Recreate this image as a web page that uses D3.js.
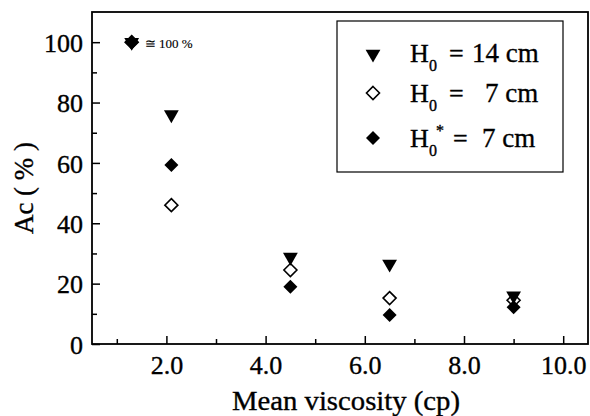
<!DOCTYPE html>
<html>
<head>
<meta charset="utf-8">
<script src="https://cdnjs.cloudflare.com/ajax/libs/d3/7.8.5/d3.min.js"></script>
<style>
    body { margin: 0; background: #fff; }
    svg { display: block; }
    text { stroke: #000; stroke-width: 0.35px; }
</style>
</head>
<body>
<svg id="chart" width="590" height="416"></svg>
<script>
// 数据：平均粘度 (cp) 与 Ac (%)
var viscosity = [1.3, 2.1, 4.5, 6.5, 9.0];
var acH14 = [100, 76, 28.8, 26.5, 16];      // H0 = 14 cm
var acH7 = [100, 46, 24.5, 15.2, 14.5];     // H0 = 7 cm
var acH7star = [100, 59.3, 19, 9.6, 12.2];  // H0* = 7 cm

var xMajorTicks = [2, 4, 6, 8, 10];
var xMinorTicks = [1, 3, 5, 7, 9];
var yMajorTicks = [0, 20, 40, 60, 80, 100];
var yMinorTicks = [10, 30, 50, 70, 90];

var legendRows = [
    {sym: 'tri', sub: '0', sup: '', rest: '14 cm', restX: 472},
    {sym: 'open', sub: '0', sup: '', rest: '7 cm', restX: 485},
    {sym: 'fill', sub: '0', sup: '*', rest: '7 cm', restX: 482}
];

var FONT = '"Liberation Serif", "Times New Roman", serif';
var margin = {left: 92, right: 2, top: 12, bottom: 72};
var width = 590, height = 416;
var svg = d3.select('#chart')
    .attr('font-family', FONT);

var x = d3.scaleLinear().domain([0.5, 10.5]).range([margin.left, width - margin.right]);
var y = d3.scaleLinear().domain([0, 110]).range([height - margin.bottom, margin.top]);

// 刻度朝内, 去掉d3默认的字体
function innerAxis(g, axis) {
    g.call(axis);
    g.attr('font-family', null).attr('font-size', null);
    g.select('.domain').remove();
    g.selectAll('line').attr('stroke', '#000').attr('stroke-width', 1.5);
    g.selectAll('text').attr('fill', '#000').style('font-family', FONT);
}

var xAxis = svg.append('g').attr('transform', 'translate(0,' + y(0) + ')');
innerAxis(xAxis, d3.axisBottom(x).tickValues(xMajorTicks).tickSizeInner(-8).tickSizeOuter(0).tickPadding(12)
    .tickFormat(d3.format('.1f')));
xAxis.selectAll('text').attr('font-size', 26).attr('dy', '0.71em');

var xMinor = svg.append('g').attr('transform', 'translate(0,' + y(0) + ')');
innerAxis(xMinor, d3.axisBottom(x).tickValues(xMinorTicks).tickSizeInner(-5).tickSizeOuter(0).tickFormat(''));

var yAxis = svg.append('g').attr('transform', 'translate(' + x(0.5) + ',0)');
innerAxis(yAxis, d3.axisLeft(y).tickValues(yMajorTicks).tickSizeInner(-8).tickSizeOuter(0).tickPadding(9));
yAxis.selectAll('text').attr('font-size', 26).attr('dy', '0.35em');

var yMinor = svg.append('g').attr('transform', 'translate(' + x(0.5) + ',0)');
innerAxis(yMinor, d3.axisLeft(y).tickValues(yMinorTicks).tickSizeInner(-5).tickSizeOuter(0).tickFormat(''));

// 外框
svg.append('rect')
    .attr('x', x(0.5)).attr('y', y(110))
    .attr('width', x(10.5) - x(0.5)).attr('height', y(0) - y(110))
    .attr('fill', 'none').attr('stroke', '#000').attr('stroke-width', 1.8);

// 轴标题
svg.append('text')
    .attr('x', 346).attr('y', 410)
    .attr('text-anchor', 'middle').attr('font-size', 27)
    .attr('textLength', 228).attr('lengthAdjust', 'spacingAndGlyphs')
    .text('Mean viscosity (cp)');

svg.append('text')
    .attr('transform', 'translate(33,' + 188 + ') rotate(-90)')
    .attr('text-anchor', 'middle').attr('font-size', 27)
    .text('Ac ( % )');

// 标记形状
var triPath = d3.symbol().type(d3.symbolTriangle).size(95)();
var diaPath = 'M0,-7L7,0L0,7L-7,0Z';
var diaOpenPath = 'M0,-6.5L6.5,0L0,6.5L-6.5,0Z';

function drawMarker(g, sym) {
    if (sym == 'tri')
        g.append('path').attr('d', triPath).attr('transform', 'rotate(180)').attr('fill', '#000');
    else if (sym == 'open')
        g.append('path').attr('d', diaOpenPath).attr('fill', '#fff').attr('stroke', '#000').attr('stroke-width', 1.6);
    else
        g.append('path').attr('d', diaPath).attr('fill', '#000');
}

function drawSeries(vals, sym) {
    svg.append('g').selectAll('g')
        .data(vals)
        .join('g')
        .attr('transform', function (d, i) { return 'translate(' + x(viscosity[i]) + ',' + y(d) + ')'; })
        .each(function () { drawMarker(d3.select(this), sym); });
}

drawSeries(acH7, 'open');
drawSeries(acH14, 'tri');
drawSeries(acH7star, 'fill');

svg.append('text')
    .attr('x', x(viscosity[0]) + 13).attr('y', y(100) + 6)
    .attr('font-size', 13).style('stroke-width', '0.15px')
    .text('\u2245 100 %');

// 图例
var legend = svg.append('g');
legend.append('rect')
    .attr('x', 337).attr('y', 21).attr('width', 226).attr('height', 151)
    .attr('fill', '#fff').attr('stroke', '#000').attr('stroke-width', 1.2);

var rowY = [62, 102, 147];
var markY = [54, 93, 138];
legendRows.forEach(function (r, i) {
    drawMarker(legend.append('g').attr('transform', 'translate(373,' + markY[i] + ')'), r.sym);
    legend.append('text').attr('x', 410).attr('y', rowY[i]).attr('font-size', 26).text('H');
    legend.append('text').attr('x', 429).attr('y', rowY[i] + 9).attr('font-size', 16).text(r.sub);
    if (r.sup)
        legend.append('text').attr('x', 436).attr('y', rowY[i] - 11).attr('font-size', 16).text(r.sup);
    legend.append('text').attr('x', r.sup ? 453 : 449).attr('y', rowY[i]).attr('font-size', 26).text('=');
    legend.append('text').attr('x', r.restX).attr('y', rowY[i]).attr('font-size', 27).text(r.rest);
});
</script>
</body>
</html>
